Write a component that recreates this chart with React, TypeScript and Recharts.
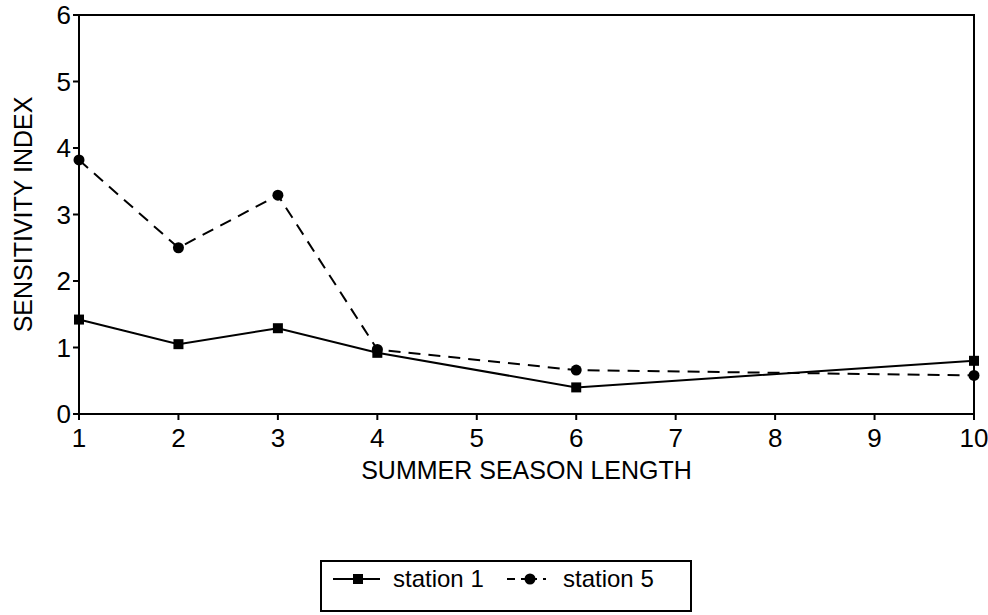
import React from "react";
import {
  LineChart,
  Line,
  XAxis,
  YAxis,
  Legend,
  ReferenceArea
} from "recharts";

const seasonLength = [1, 2, 3, 4, 6, 10];
const station1 = [1.42, 1.05, 1.29, 0.92, 0.4, 0.8];
const station5 = [3.82, 2.5, 3.29, 0.97, 0.66, 0.58];
const xTicks = [1, 2, 3, 4, 5, 6, 7, 8, 9, 10];
const yTicks = [0, 1, 2, 3, 4, 5, 6];

const data = seasonLength.map((len, i) => ({
  len,
  s1: station1[i],
  s5: station5[i]
}));

const font = "'Liberation Sans', Arial, sans-serif";

const SquareDot = (props: any) => {
  const { cx, cy, index } = props;
  if (cx == null || cy == null) return null;
  return <rect key={index} x={cx - 5} y={cy - 5} width={10} height={10} fill="#000" />;
};

const CircleDot = (props: any) => {
  const { cx, cy, index } = props;
  if (cx == null || cy == null) return null;
  return <circle key={index} cx={cx} cy={cy} r={5.5} fill="#000" />;
};

const LegendBox = () => (
  <div
    style={{
      position: "relative",
      width: 372,
      height: 52,
      border: "2px solid #000",
      boxSizing: "border-box",
      fontFamily: font,
      fontSize: 24,
      color: "#000"
    }}
  >
    <svg width={372} height={52} style={{ position: "absolute", left: -2, top: -2 }}>
      <line x1={13} x2={60} y1={19} y2={19} stroke="#000" strokeWidth={2} />
      <rect x={33} y={14} width={10} height={10} fill="#000" />
      <line x1={187} x2={233} y1={19} y2={19} stroke="#000" strokeWidth={2} strokeDasharray="8 6 16 6 3 10" />
      <circle cx={210} cy={19} r={5.5} fill="#000" />
      <text x={73} y={27} fontSize={24} fontFamily={font}>station 1</text>
      <text x={243} y={27} fontSize={24} fontFamily={font}>station 5</text>
    </svg>
  </div>
);

export default function App() {
  return (
    <div style={{ position: "absolute", left: 0, top: 0, background: "#fff" }}>
      <LineChart
        width={988}
        height={615}
        data={data}
        margin={{ top: 15, right: 14, bottom: 126, left: 0 }}
      >
        <XAxis
          dataKey="len"
          type="number"
          domain={[1, 10]}
          ticks={xTicks}
          interval={0}
          height={75}
          tickSize={6}
          tickMargin={9}
          stroke="#000"
          strokeWidth={2}
          tick={{ fill: "#000", fontSize: 26, fontFamily: font }}
          label={{
            value: "SUMMER SEASON LENGTH",
            position: "insideBottom",
            offset: 10,
            fill: "#000",
            fontSize: 25,
            fontFamily: font
          }}
        />
        <YAxis
          type="number"
          domain={[0, 6]}
          ticks={yTicks}
          interval={0}
          width={79}
          tickSize={6}
          stroke="#000"
          strokeWidth={2}
          tick={{ fill: "#000", fontSize: 26, fontFamily: font }}
          label={{
            value: "SENSITIVITY INDEX",
            angle: -90,
            position: "insideLeft",
            offset: 23,
            fill: "#000",
            fontSize: 25,
            fontFamily: font,
            style: { textAnchor: "middle" }
          }}
        />
        <ReferenceArea x1={1} x2={10} y1={0} y2={6} fill="none" stroke="#000" strokeWidth={2} />
        <Line
          dataKey="s1"
          name="station 1"
          type="linear"
          stroke="#000"
          strokeWidth={2}
          dot={<SquareDot />}
          isAnimationActive={false}
        />
        <Line
          dataKey="s5"
          name="station 5"
          type="linear"
          stroke="#000"
          strokeWidth={2}
          strokeDasharray="12 8"
          dot={<CircleDot />}
          isAnimationActive={false}
        />
        <Legend
          verticalAlign="middle"
          align="center"
          layout="horizontal"
          wrapperStyle={{ left: 320, top: 560, width: 372, height: 52 }}
          content={<LegendBox />}
        />
      </LineChart>
    </div>
  );
}
